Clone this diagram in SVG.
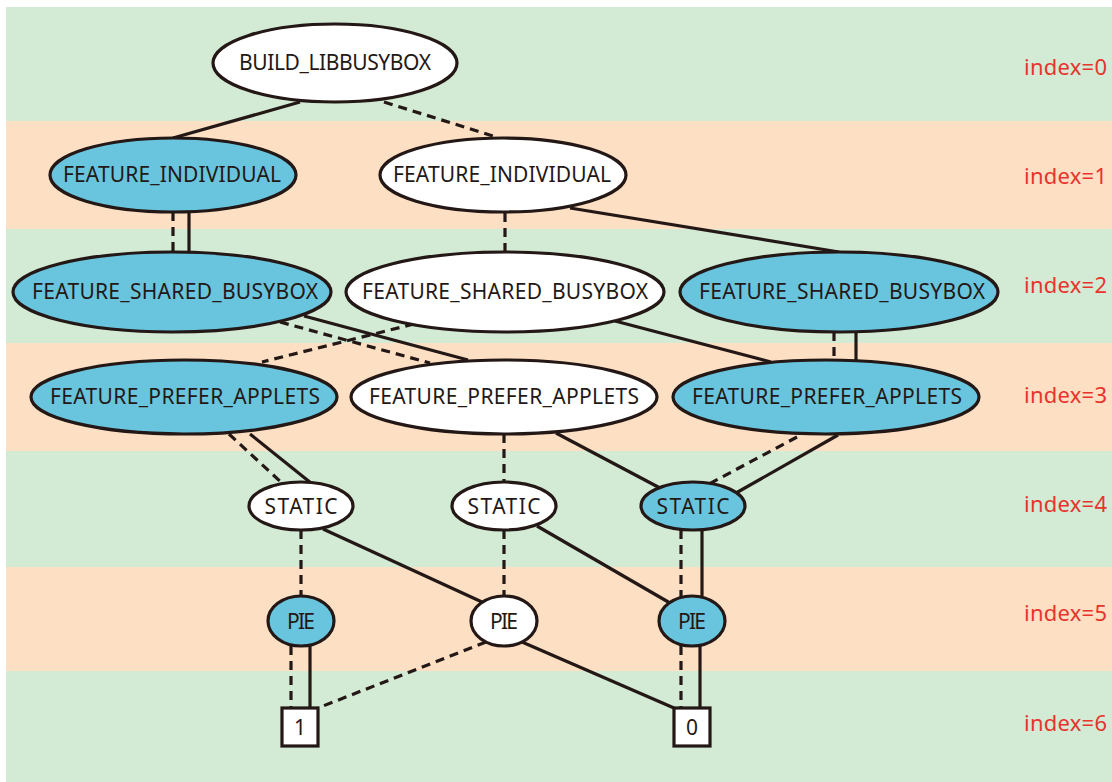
<svg xmlns="http://www.w3.org/2000/svg" width="1112" height="782" viewBox="0 0 1112 782">
  <style>
    .band-g { fill: #d3ead5; }
    .band-o { fill: #fddfc3; }
    .idx { font-family: "Noto Sans", "Liberation Sans", sans-serif; font-size: 22px; fill: #e8342c; }
    .node ellipse, .node rect { stroke: #231815; stroke-width: 3.2; }
    .on { fill: #69c4de; }
    .off { fill: #ffffff; }
    .lbl { font-family: "Noto Sans", "Liberation Sans", sans-serif; font-size: 21px; fill: #231815; text-anchor: middle; }
    #edges line { stroke: #231815; stroke-width: 3.2; fill: none; }
    #edges .lo { stroke-dasharray: 9 6; }
  </style>

  <!-- level bands -->
  <g id="bands">
    <rect class="band-g" x="6" y="7" width="1106" height="114"/>
    <rect class="band-o" x="6" y="121" width="1106" height="108"/>
    <rect class="band-g" x="6" y="229" width="1106" height="114"/>
    <rect class="band-o" x="6" y="343" width="1106" height="108"/>
    <rect class="band-g" x="6" y="451" width="1106" height="116"/>
    <rect class="band-o" x="6" y="567" width="1106" height="104"/>
    <rect class="band-g" x="6" y="671" width="1106" height="111"/>
  </g>

  <g id="levels">
    <text class="idx" x="1024" y="75" textLength="83">index=0</text>
    <text class="idx" x="1024" y="184" textLength="83">index=1</text>
    <text class="idx" x="1024" y="293" textLength="83">index=2</text>
    <text class="idx" x="1024" y="403" textLength="83">index=3</text>
    <text class="idx" x="1024" y="512" textLength="83">index=4</text>
    <text class="idx" x="1024" y="621" textLength="83">index=5</text>
    <text class="idx" x="1024" y="731" textLength="83">index=6</text>
  </g>

  <!-- connectors: solid = high branch, dashed = low branch -->
  <g id="edges">
    <line x1="300" y1="102" x2="173" y2="138"/>
    <line class="lo" x1="384" y1="102" x2="493" y2="136"/>

    <line class="lo" x1="173" y1="212" x2="173" y2="252"/>
    <line x1="189" y1="212" x2="189" y2="252"/>
    <line class="lo" x1="505" y1="213" x2="505" y2="252"/>
    <line x1="570" y1="208" x2="839" y2="252"/>

    <line x1="304" y1="316" x2="468" y2="360"/>
    <line class="lo" x1="280" y1="322" x2="430" y2="363"/>
    <line class="lo" x1="414" y1="324" x2="262" y2="362"/>
    <line x1="615" y1="321" x2="771" y2="362"/>
    <line class="lo" x1="834" y1="332" x2="834" y2="360"/>
    <line x1="856" y1="332" x2="856" y2="360"/>

    <line class="lo" x1="229" y1="434" x2="283" y2="484"/>
    <line x1="250" y1="434" x2="311" y2="483"/>
    <line class="lo" x1="504" y1="434" x2="504" y2="482"/>
    <line x1="556" y1="433" x2="660" y2="488"/>
    <line class="lo" x1="797" y1="437" x2="709" y2="484"/>
    <line x1="838" y1="435" x2="736" y2="493"/>

    <line class="lo" x1="301" y1="530" x2="301" y2="597"/>
    <line x1="323" y1="529" x2="482" y2="602"/>
    <line class="lo" x1="504" y1="530" x2="504" y2="597"/>
    <line x1="537" y1="526" x2="670" y2="603"/>
    <line class="lo" x1="681" y1="530" x2="681" y2="597"/>
    <line x1="702" y1="530" x2="702" y2="597"/>

    <line class="lo" x1="291" y1="646" x2="291" y2="708"/>
    <line x1="310" y1="646" x2="310" y2="708"/>
    <line class="lo" x1="486" y1="642" x2="318" y2="708"/>
    <line x1="522" y1="642" x2="674" y2="708"/>
    <line class="lo" x1="681" y1="646" x2="681" y2="708"/>
    <line x1="700" y1="646" x2="700" y2="708"/>
  </g>

  <!-- index 0 -->
  <g id="n-build-libbusybox" class="node">
    <ellipse class="off" cx="335" cy="63" rx="122" ry="39"/>
    <text class="lbl" x="335" y="70" textLength="192">BUILD_LIBBUSYBOX</text>
  </g>

  <!-- index 1 -->
  <g id="n-individual-a" class="node">
    <ellipse class="on" cx="173" cy="175" rx="123" ry="37"/>
    <text class="lbl" x="172" y="182" textLength="218">FEATURE_INDIVIDUAL</text>
  </g>
  <g id="n-individual-b" class="node">
    <ellipse class="off" cx="503" cy="175" rx="123" ry="37"/>
    <text class="lbl" x="502" y="182" textLength="218">FEATURE_INDIVIDUAL</text>
  </g>

  <!-- index 2 -->
  <g id="n-shared-a" class="node">
    <ellipse class="on" cx="172" cy="292" rx="159" ry="40"/>
    <text class="lbl" x="175" y="299" textLength="286">FEATURE_SHARED_BUSYBOX</text>
  </g>
  <g id="n-shared-b" class="node">
    <ellipse class="off" cx="505" cy="292" rx="159" ry="40"/>
    <text class="lbl" x="505" y="299" textLength="286">FEATURE_SHARED_BUSYBOX</text>
  </g>
  <g id="n-shared-c" class="node">
    <ellipse class="on" cx="839" cy="292" rx="159" ry="40"/>
    <text class="lbl" x="842" y="299" textLength="286">FEATURE_SHARED_BUSYBOX</text>
  </g>

  <!-- index 3 -->
  <g id="n-prefer-a" class="node">
    <ellipse class="on" cx="184" cy="397" rx="153" ry="37"/>
    <text class="lbl" x="185" y="404" textLength="270">FEATURE_PREFER_APPLETS</text>
  </g>
  <g id="n-prefer-b" class="node">
    <ellipse class="off" cx="504" cy="397" rx="153" ry="37"/>
    <text class="lbl" x="504" y="404" textLength="270">FEATURE_PREFER_APPLETS</text>
  </g>
  <g id="n-prefer-c" class="node">
    <ellipse class="on" cx="826" cy="397" rx="153" ry="37"/>
    <text class="lbl" x="827" y="404" textLength="270">FEATURE_PREFER_APPLETS</text>
  </g>

  <!-- index 4 -->
  <g id="n-static-a" class="node">
    <ellipse class="off" cx="301" cy="506" rx="52" ry="24"/>
    <text class="lbl" x="301" y="514" textLength="73">STATIC</text>
  </g>
  <g id="n-static-b" class="node">
    <ellipse class="off" cx="504" cy="506" rx="52" ry="24"/>
    <text class="lbl" x="504" y="514" textLength="73">STATIC</text>
  </g>
  <g id="n-static-c" class="node">
    <ellipse class="on" cx="693" cy="506" rx="52" ry="24"/>
    <text class="lbl" x="693" y="514" textLength="73">STATIC</text>
  </g>

  <!-- index 5 -->
  <g id="n-pie-a" class="node">
    <ellipse class="on" cx="301" cy="621" rx="33" ry="25"/>
    <text class="lbl" x="301" y="629" textLength="28">PIE</text>
  </g>
  <g id="n-pie-b" class="node">
    <ellipse class="off" cx="504" cy="621" rx="33" ry="25"/>
    <text class="lbl" x="504" y="629" textLength="28">PIE</text>
  </g>
  <g id="n-pie-c" class="node">
    <ellipse class="on" cx="692" cy="621" rx="33" ry="25"/>
    <text class="lbl" x="692" y="629" textLength="28">PIE</text>
  </g>

  <!-- index 6: terminals -->
  <g id="t-one" class="node">
    <rect class="off" x="282" y="708" width="36" height="38"/>
    <text class="lbl" x="300" y="735">1</text>
  </g>
  <g id="t-zero" class="node">
    <rect class="off" x="674" y="708" width="36" height="38"/>
    <text class="lbl" x="692" y="735">0</text>
  </g>
</svg>
